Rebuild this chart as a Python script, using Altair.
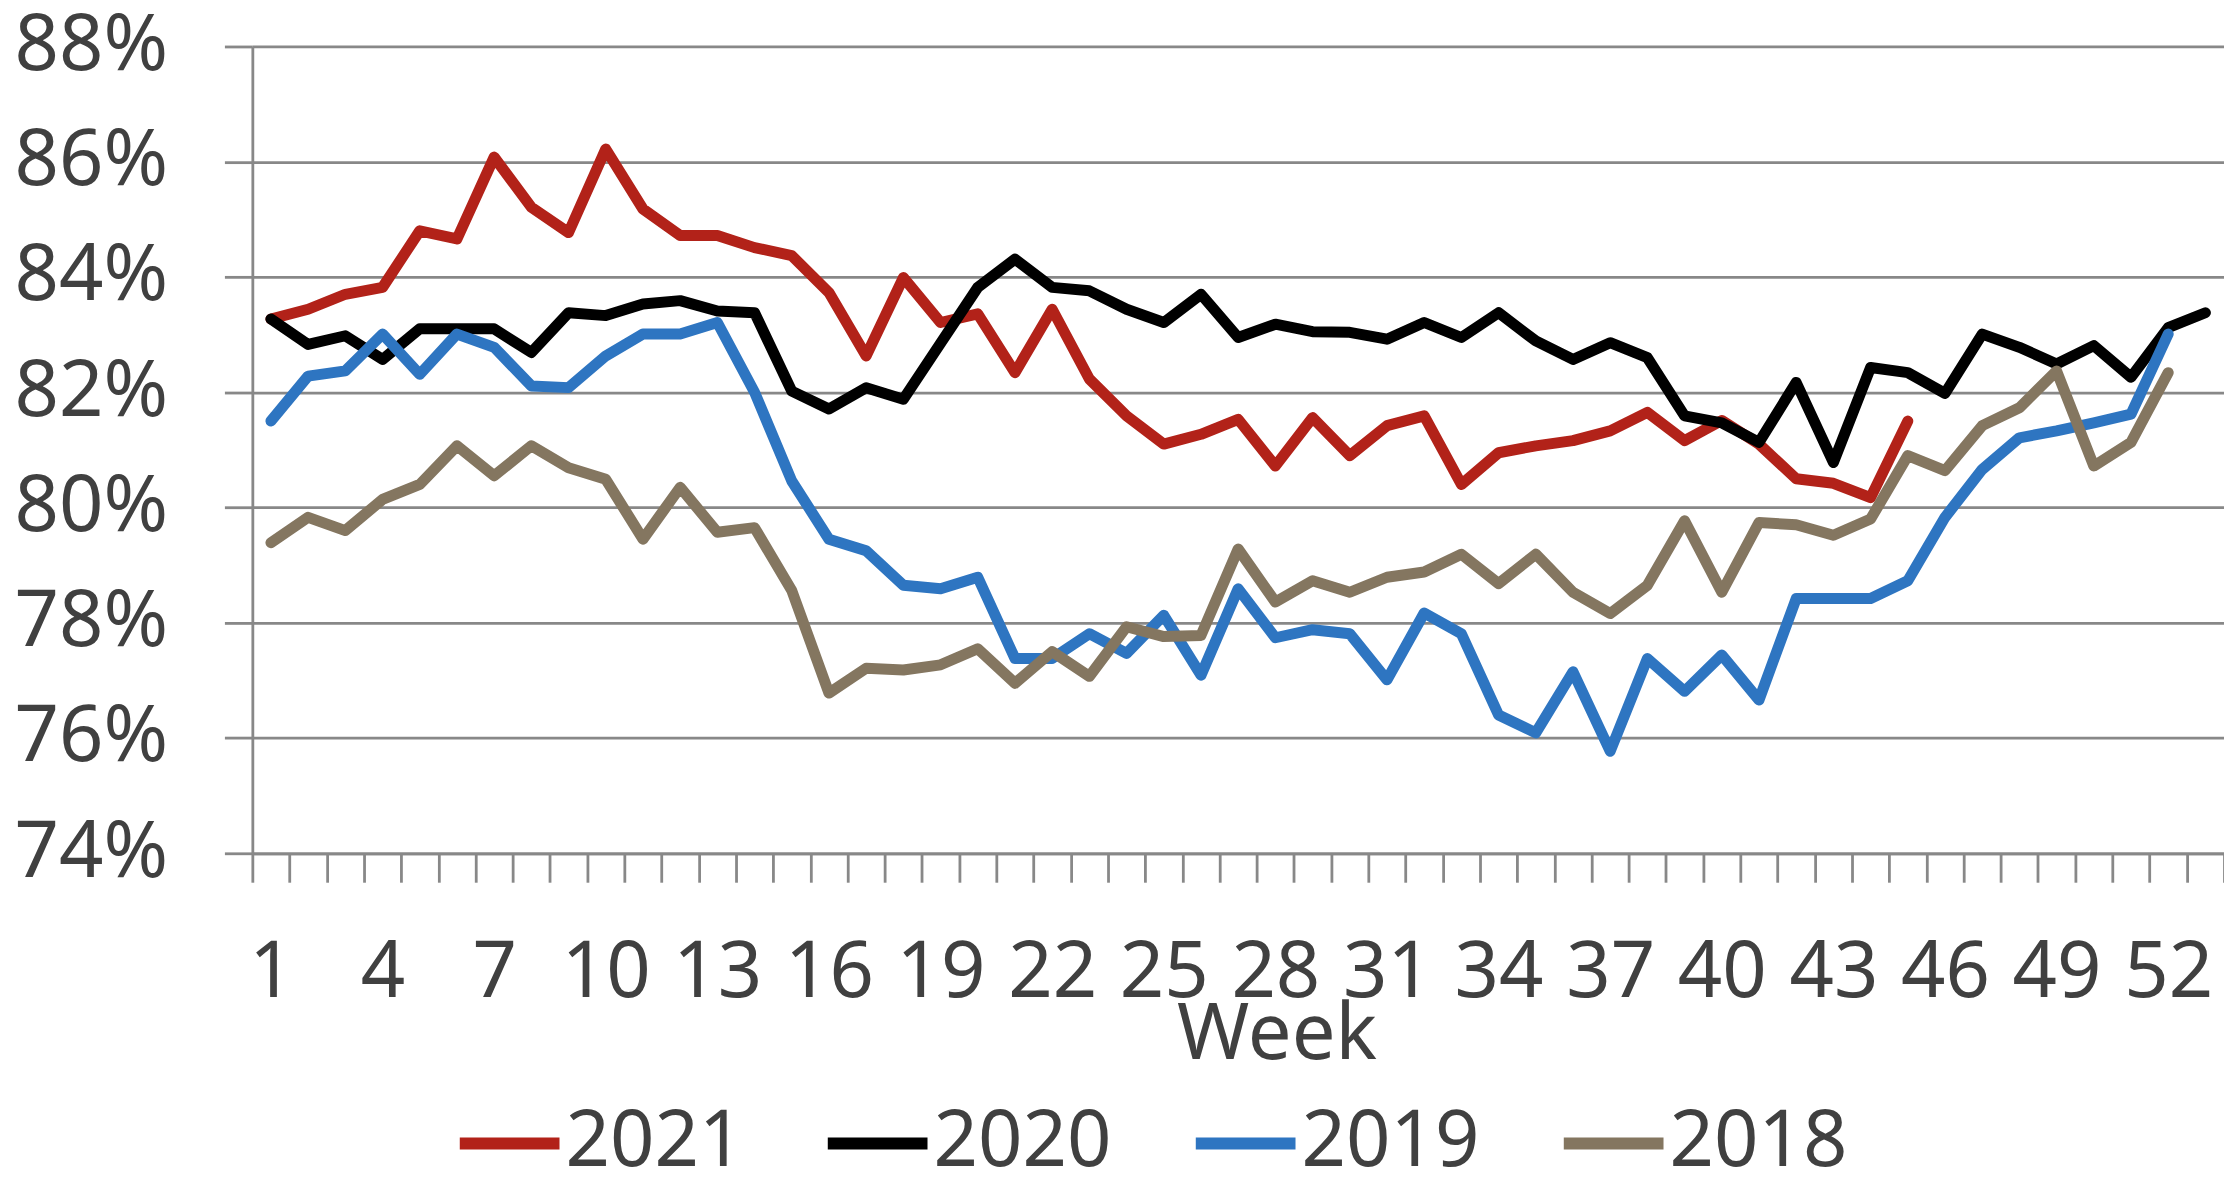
import altair as alt
import pandas as pd

weeks = list(range(1, 54))

y2021 = [83.27, 83.44, 83.70, 83.82, 84.80, 84.66, 86.08, 85.21, 84.77, 86.22,
         85.18, 84.72, 84.72, 84.51, 84.37, 83.73, 82.63, 83.99, 83.21, 83.36,
         82.34, 83.44, 82.23, 81.59, 81.10, 81.27, 81.53, 80.72, 81.56, 80.90,
         81.42, 81.59, 80.40, 80.95, 81.07, 81.16, 81.33, 81.65, 81.16, 81.51,
         81.10, 80.50, 80.42, 80.17, 81.50]

y2020 = [83.27, 82.83, 82.98, 82.57, 83.10, 83.10, 83.10, 82.69, 83.38, 83.33,
         83.53, 83.59, 83.41, 83.38, 82.02, 81.71, 82.08, 81.88, 82.85, 83.82,
         84.31, 83.82, 83.76, 83.44, 83.21, 83.70, 82.95, 83.18, 83.05, 83.04,
         82.92, 83.21, 82.95, 83.38, 82.89, 82.57, 82.86, 82.60, 81.59, 81.47,
         81.13, 82.17, 80.78, 82.43, 82.34, 81.98, 83.01, 82.78, 82.49, 82.81,
         82.26, 83.12, 83.38]

y2019 = [81.50, 82.28, 82.37, 83.01, 82.31, 83.01, 82.78, 82.11, 82.08, 82.63,
         83.01, 83.01, 83.21, 82.00, 80.46, 79.45, 79.25, 78.65, 78.59, 78.79,
         77.38, 77.38, 77.81, 77.47, 78.13, 77.09, 78.59, 77.74, 77.88, 77.81,
         77.01, 78.17, 77.81, 76.40, 76.09, 77.15, 75.77, 77.38, 76.81, 77.44,
         76.66, 78.42, 78.42, 78.42, 78.73, 79.83, 80.66, 81.21, 81.33, 81.47,
         81.62, 83.01]

y2018 = [79.39, 79.83, 79.60, 80.14, 80.40, 81.07, 80.55, 81.07, 80.69, 80.49,
         79.45, 80.35, 79.57, 79.65, 78.56, 76.78, 77.21, 77.18, 77.27, 77.55,
         76.95, 77.50, 77.07, 77.93, 77.76, 77.78, 79.28, 78.36, 78.73, 78.53,
         78.79, 78.88, 79.19, 78.68, 79.19, 78.53, 78.16, 78.65, 79.77, 78.53,
         79.74, 79.70, 79.52, 79.80, 80.90, 80.64, 81.42, 81.73, 82.37, 80.72,
         81.13, 82.34]

years = ["2021", "2020", "2019", "2018"]
series = [y2021, y2020, y2019, y2018]
colors = ["#B22219", "#000000", "#2E75C1", "#847660"]
y_ticks = [0.74, 0.76, 0.78, 0.80, 0.82, 0.84, 0.86, 0.88]

rows = []
for yr, vals in zip(years, series):
    for i, v in enumerate(vals):
        rows.append({"year": yr, "week": weeks[i], "value": v / 100})
df = pd.DataFrame(rows)

FONT = "Noto Sans"
TEXT = "#404040"
GRID = "#888888"
FS = 78

x_enc = alt.X(
    "week:O",
    scale=alt.Scale(type="band", domain=weeks, paddingInner=0, paddingOuter=0),
    bandPosition=0.5,
    title="Week",
    axis=alt.Axis(
        tickBand="extent", ticks=True, tickSize=29, tickColor=GRID, tickWidth=2.8,
        domainColor=GRID, domainWidth=2.8, grid=False,
        labelExpr="(datum.value - 1) % 3 == 0 ? datum.label : ''",
        labelAngle=0, labelFont=FONT, labelFontSize=FS, labelColor=TEXT,
        labelPadding=115, labelBaseline="alphabetic", labelOverlap=False,
        titleFont=FONT, titleFontSize=FS, titleFontWeight="normal", titleColor=TEXT,
        titleX=1027, titleY=206, titleBaseline="alphabetic",
    ),
)

y_enc = alt.Y(
    "value:Q",
    scale=alt.Scale(domain=[0.74, 0.88], nice=False, zero=False),
    axis=alt.Axis(
        values=y_ticks, format=".0%", grid=True, gridColor=GRID, gridWidth=2.8,
        tickSize=28, tickColor=GRID, tickWidth=2.8, domainColor=GRID, domainWidth=2.8,
        labelFont=FONT, labelFontSize=FS, labelColor=TEXT, labelPadding=57,
        title=None,
    ),
)

color_enc = alt.Color(
    "year:N",
    scale=alt.Scale(domain=years, range=colors),
    legend=alt.Legend(
        orient="none", legendX=202, legendY=1044, direction="horizontal",
        title=None, symbolType="stroke", symbolSize=10000, symbolStrokeWidth=12,
        labelFont=FONT, labelFontSize=FS, labelColor=TEXT, labelOffset=0,
        labelLimit=600, columnPadding=60, padding=0,
    ),
)

layers = []
for yr in years:
    layers.append(
        alt.Chart(df)
        .transform_filter(alt.datum.year == yr)
        .mark_line(strokeWidth=11, strokeJoin="round", strokeCap="round")
        .encode(x=x_enc, y=y_enc, color=color_enc)
    )

chart = (
    alt.layer(*layers)
    .properties(
        width=1977, height=809,
        autosize=alt.AutoSizeParams(type="none"),
        padding={"left": 245, "top": 37, "right": 0, "bottom": 318},
    )
    .configure_view(stroke=None)
)

chart.save("out.html", embed_options={"renderer": "svg", "actions": False})
